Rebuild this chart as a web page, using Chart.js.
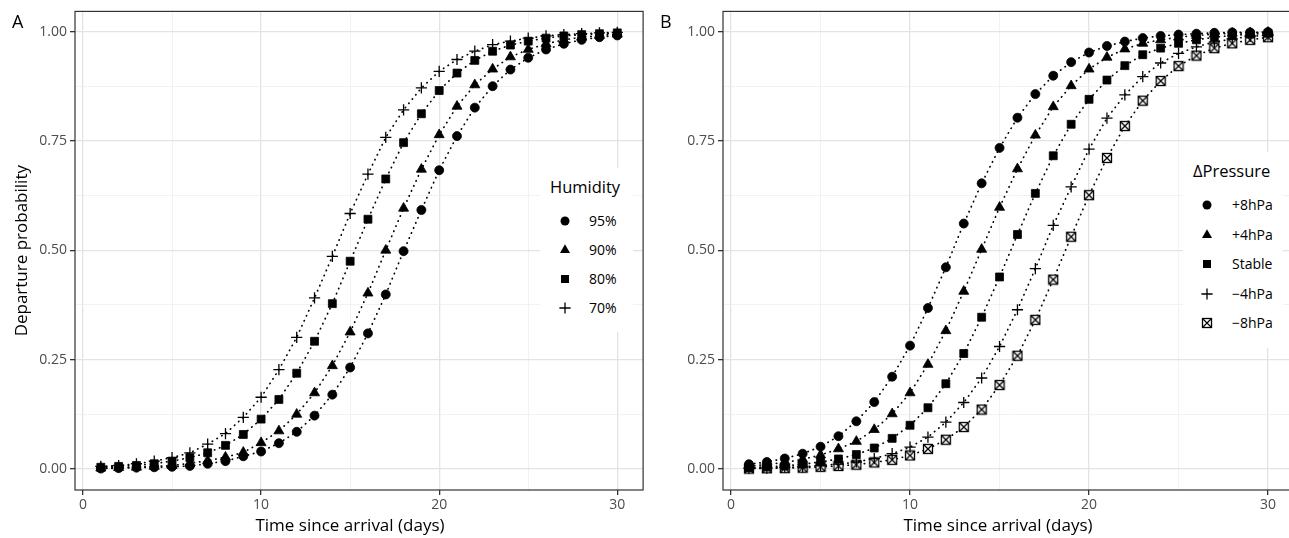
<!DOCTYPE html>
<html>
<head>
<meta charset="utf-8">
<title>Departure probability by humidity and pressure change</title>
<script src="https://cdn.jsdelivr.net/npm/chart.js"></script>
<style>
  html, body { margin: 0; padding: 0; background: #fff; overflow: hidden; }
  body { width: 1289px; height: 538px; position: relative; font-family: "Open Sans", sans-serif; }
  canvas { position: absolute; top: 0; }
  #chartA { left: 0; }
  #chartB { left: 650px; }
  .tag { position: absolute; top: 11px; font-size: 18px; line-height: 20px; color: #000; }
  .xtitle { position: absolute; top: 513px; width: 400px; text-align: center; font-size: 17px; line-height: 24px; color: #000; white-space: nowrap; }
  .legend { position: absolute; background: #fff; }
  .legend .ttl { position: absolute; left: 10px; font-size: 16.5px; line-height: 20px; color: #000; white-space: nowrap; }
  .legend .row { position: absolute; left: 0; height: 20px; white-space: nowrap; }
  .legend .row svg { position: absolute; top: 2px; }
  .legend .row span { position: absolute; font-size: 14px; line-height: 20px; color: #000; }
</style>
</head>
<body>
<canvas id="chartA" width="650" height="538"></canvas>
<canvas id="chartB" width="660" height="538"></canvas>
<div class="tag" style="left:12px">A</div>
<div class="tag" style="left:660px">B</div>
<div class="xtitle" style="left:150px">Time since arrival (days)</div>
<div class="xtitle" style="left:798px">Time since arrival (days)</div>
<div id="legendA" class="legend" style="left:540px; top:168px; width:93px; height:164px"></div>
<div id="legendB" class="legend" style="left:1183px; top:152px; width:100px; height:196px"></div>

<script>
// Days since arrival
const days = [1, 2, 3, 4, 5, 6, 7, 8, 9, 10, 11, 12, 13, 14, 15, 16, 17, 18, 19, 20, 21, 22, 23, 24, 25, 26, 27, 28, 29, 30];

// Panel A: humidity
const humidityLabels = ['95%', '90%', '80%', '70%'];
const hum95 = [0.001, 0.002, 0.003, 0.004, 0.005, 0.007, 0.012, 0.018, 0.029, 0.040, 0.059, 0.085, 0.122, 0.170, 0.232, 0.310, 0.399, 0.498, 0.592, 0.683, 0.761, 0.826, 0.875, 0.913, 0.940, 0.959, 0.972, 0.981, 0.987, 0.991];
const hum90 = [0.002, 0.003, 0.004, 0.006, 0.008, 0.013, 0.019, 0.027, 0.038, 0.060, 0.087, 0.125, 0.174, 0.236, 0.313, 0.402, 0.500, 0.596, 0.685, 0.764, 0.829, 0.878, 0.914, 0.942, 0.959, 0.972, 0.981, 0.987, 0.991, 0.994];
const hum80 = [0.004, 0.006, 0.008, 0.012, 0.018, 0.026, 0.037, 0.054, 0.079, 0.114, 0.159, 0.219, 0.292, 0.378, 0.475, 0.571, 0.663, 0.746, 0.812, 0.865, 0.905, 0.934, 0.955, 0.969, 0.978, 0.985, 0.990, 0.993, 0.995, 0.997];
const hum70 = [0.006, 0.008, 0.012, 0.018, 0.026, 0.037, 0.057, 0.081, 0.118, 0.164, 0.227, 0.301, 0.391, 0.486, 0.584, 0.674, 0.758, 0.821, 0.871, 0.909, 0.936, 0.955, 0.970, 0.978, 0.985, 0.990, 0.993, 0.995, 0.997, 0.998];

// Panel B: change in pressure
const pressureLabels = ['+8hPa', '+4hPa', 'Stable', '\u22124hPa', '\u22128hPa'];
const presP8 = [0.011, 0.016, 0.024, 0.035, 0.051, 0.075, 0.109, 0.153, 0.211, 0.282, 0.368, 0.461, 0.561, 0.653, 0.734, 0.803, 0.857, 0.899, 0.930, 0.952, 0.967, 0.977, 0.985, 0.990, 0.993, 0.995, 0.997, 0.998, 0.998, 0.999];
const presP4 = [0.007, 0.010, 0.015, 0.022, 0.032, 0.046, 0.063, 0.090, 0.126, 0.174, 0.239, 0.316, 0.406, 0.502, 0.598, 0.686, 0.763, 0.828, 0.876, 0.914, 0.941, 0.960, 0.973, 0.981, 0.987, 0.991, 0.994, 0.996, 0.997, 0.998];
const presStable = [0.003, 0.005, 0.007, 0.011, 0.016, 0.023, 0.033, 0.048, 0.070, 0.100, 0.140, 0.195, 0.264, 0.347, 0.439, 0.536, 0.630, 0.716, 0.788, 0.845, 0.889, 0.922, 0.947, 0.962, 0.973, 0.981, 0.987, 0.991, 0.994, 0.996];
const presM4 = [0.002, 0.002, 0.004, 0.005, 0.008, 0.011, 0.016, 0.024, 0.035, 0.050, 0.073, 0.107, 0.152, 0.208, 0.280, 0.364, 0.458, 0.557, 0.645, 0.731, 0.802, 0.855, 0.897, 0.928, 0.950, 0.965, 0.976, 0.983, 0.989, 0.992];
const presM8 = [0.001, 0.0015, 0.002, 0.003, 0.005, 0.007, 0.010, 0.015, 0.021, 0.031, 0.046, 0.067, 0.096, 0.136, 0.192, 0.259, 0.341, 0.433, 0.531, 0.626, 0.711, 0.784, 0.842, 0.887, 0.921, 0.945, 0.962, 0.973, 0.981, 0.987];

// Tick positions
const xTicks = [0, 5, 10, 15, 20, 25, 30];
const yTicks = [0, 0.125, 0.25, 0.375, 0.5, 0.625, 0.75, 0.875, 1];

Chart.defaults.font.family = '"Open Sans", sans-serif';

// square with a cross in it (ggplot shape 7)
function crossedSquare() {
  const c = document.createElement('canvas');
  c.width = 12; c.height = 12;
  const g = c.getContext('2d');
  g.fillStyle = '#fff';
  g.fillRect(1.5, 1.5, 9, 9);
  g.strokeStyle = '#000';
  g.lineWidth = 1.3;
  g.strokeRect(1.5, 1.5, 9, 9);
  g.beginPath();
  g.moveTo(1.5, 1.5); g.lineTo(10.5, 10.5);
  g.moveTo(10.5, 1.5); g.lineTo(1.5, 10.5);
  g.stroke();
  return c;
}

const markers = {
  circle: { pointStyle: 'circle', pointRadius: 4.5, pointBorderWidth: 0.8 },
  triangle: { pointStyle: 'triangle', pointRadius: 5.8, pointBorderWidth: 0.8 },
  square: { pointStyle: 'rect', pointRadius: 5.6, pointBorderWidth: 0.8 },
  plus: { pointStyle: 'cross', pointRadius: 5.6, pointBorderWidth: 1.3 },
  xsquare: { pointStyle: crossedSquare(), pointRadius: 4.5, pointBorderWidth: 0 }
};

function series(label, values, marker) {
  return Object.assign({
    label: label,
    data: days.map((d, i) => ({ x: d, y: values[i] })),
    showLine: true,
    borderColor: '#000',
    borderWidth: 1.7,
    borderDash: [0.4, 5.1],
    borderCapStyle: 'round',
    pointBackgroundColor: '#000',
    pointBorderColor: '#000',
    tension: 0
  }, markers[marker]);
}

const isMajorX = v => v % 10 === 0;
const isMajorY = v => Math.abs(v * 4 - Math.round(v * 4)) < 1e-6;

// ggplot style panel border on all four sides
const frame = {
  id: 'frame',
  afterDraw(chart) {
    const a = chart.chartArea, ctx = chart.ctx;
    ctx.save();
    ctx.strokeStyle = '#333';
    ctx.lineWidth = 1.2;
    ctx.strokeRect(a.left, a.top, a.right - a.left, a.bottom - a.top);
    ctx.restore();
  }
};

function makeChart(id, datasets, yWidth, rightPad, yTitle) {
  return new Chart(document.getElementById(id), {
    type: 'scatter',
    data: { datasets: datasets },
    options: {
      responsive: false,
      animation: false,
      layout: { padding: { left: 0, top: 11, right: rightPad, bottom: 0 } },
      plugins: { legend: { display: false }, tooltip: { enabled: false } },
      scales: {
        x: {
          type: 'linear',
          min: -0.45,
          max: 31.45,
          afterBuildTicks: s => { s.ticks = xTicks.map(v => ({ value: v })); },
          afterFit: s => { s.height = 48; },
          border: { display: false },
          grid: {
            color: c => isMajorX(c.tick.value) ? '#e3e3e3' : '#efefef',
            lineWidth: c => isMajorX(c.tick.value) ? 1.3 : 0.8,
            tickColor: c => isMajorX(c.tick.value) ? '#333' : 'rgba(0,0,0,0)',
            tickLength: 5
          },
          ticks: {
            autoSkip: false,
            maxRotation: 0,
            padding: 2,
            color: '#4d4d4d',
            font: { size: 14 },
            callback: v => isMajorX(v) ? String(v) : ''
          }
        },
        y: {
          type: 'linear',
          min: -0.048,
          max: 1.046,
          afterBuildTicks: s => { s.ticks = yTicks.map(v => ({ value: v })); },
          afterFit: s => { s.width = yWidth; },
          border: { display: false },
          grid: {
            color: c => isMajorY(c.tick.value) ? '#e3e3e3' : '#efefef',
            lineWidth: c => isMajorY(c.tick.value) ? 1.3 : 0.8,
            tickColor: c => isMajorY(c.tick.value) ? '#333' : 'rgba(0,0,0,0)',
            tickLength: 5
          },
          ticks: {
            autoSkip: false,
            padding: 3,
            color: '#4d4d4d',
            font: { size: 14 },
            callback: v => isMajorY(v) ? v.toFixed(2) : ''
          },
          title: {
            display: !!yTitle,
            text: yTitle || '',
            color: '#000',
            font: { size: 17 },
            padding: { top: 12, bottom: 0 }
          }
        }
      }
    },
    plugins: [frame]
  });
}

makeChart('chartA', [
  series(humidityLabels[0], hum95, 'circle'),
  series(humidityLabels[1], hum90, 'triangle'),
  series(humidityLabels[2], hum80, 'square'),
  series(humidityLabels[3], hum70, 'plus')
], 75, 6, 'Departure probability');

makeChart('chartB', [
  series(pressureLabels[0], presP8, 'circle'),
  series(pressureLabels[1], presP4, 'triangle'),
  series(pressureLabels[2], presStable, 'square'),
  series(pressureLabels[3], presM4, 'plus'),
  series(pressureLabels[4], presM8, 'xsquare')
], 73, 16, '');

// legend symbols as small svgs
const symbolSvg = {
  circle: '<circle cx="8" cy="8" r="4.5" fill="#000"/>',
  triangle: '<polygon points="8,2.2 13,10.9 3,10.9" fill="#000"/>',
  square: '<rect x="4" y="4" width="8" height="8" fill="#000"/>',
  plus: '<path d="M2.4 8H13.6M8 2.4V13.6" stroke="#000" stroke-width="1.3"/>',
  xsquare: '<rect x="3.5" y="3.5" width="9" height="9" fill="#fff" stroke="#000" stroke-width="1.3"/><path d="M3.5 3.5L12.5 12.5M12.5 3.5L3.5 12.5" stroke="#000" stroke-width="1.2"/>'
};

function buildLegend(id, title, labels, symbols, titleY, rowY, step, symX, textX) {
  const box = document.getElementById(id);
  let html = '<div class="ttl" style="top:' + (titleY - 10) + 'px">' + title + '</div>';
  labels.forEach((lab, i) => {
    const top = rowY + i * step - 10;
    html += '<div class="row" style="top:' + top + 'px">' +
      '<svg width="16" height="16" style="left:' + (symX - 8) + 'px">' + symbolSvg[symbols[i]] + '</svg>' +
      '<span style="left:' + textX + 'px">' + lab + '</span></div>';
  });
  box.innerHTML = html;
}

buildLegend('legendA', 'Humidity', humidityLabels, ['circle', 'triangle', 'square', 'plus'], 19, 52.5, 29.3, 25, 49);
buildLegend('legendB', '\u0394Pressure', pressureLabels, ['circle', 'triangle', 'square', 'plus', 'xsquare'], 19, 53, 29.5, 24, 49);
</script>
</body>
</html>
